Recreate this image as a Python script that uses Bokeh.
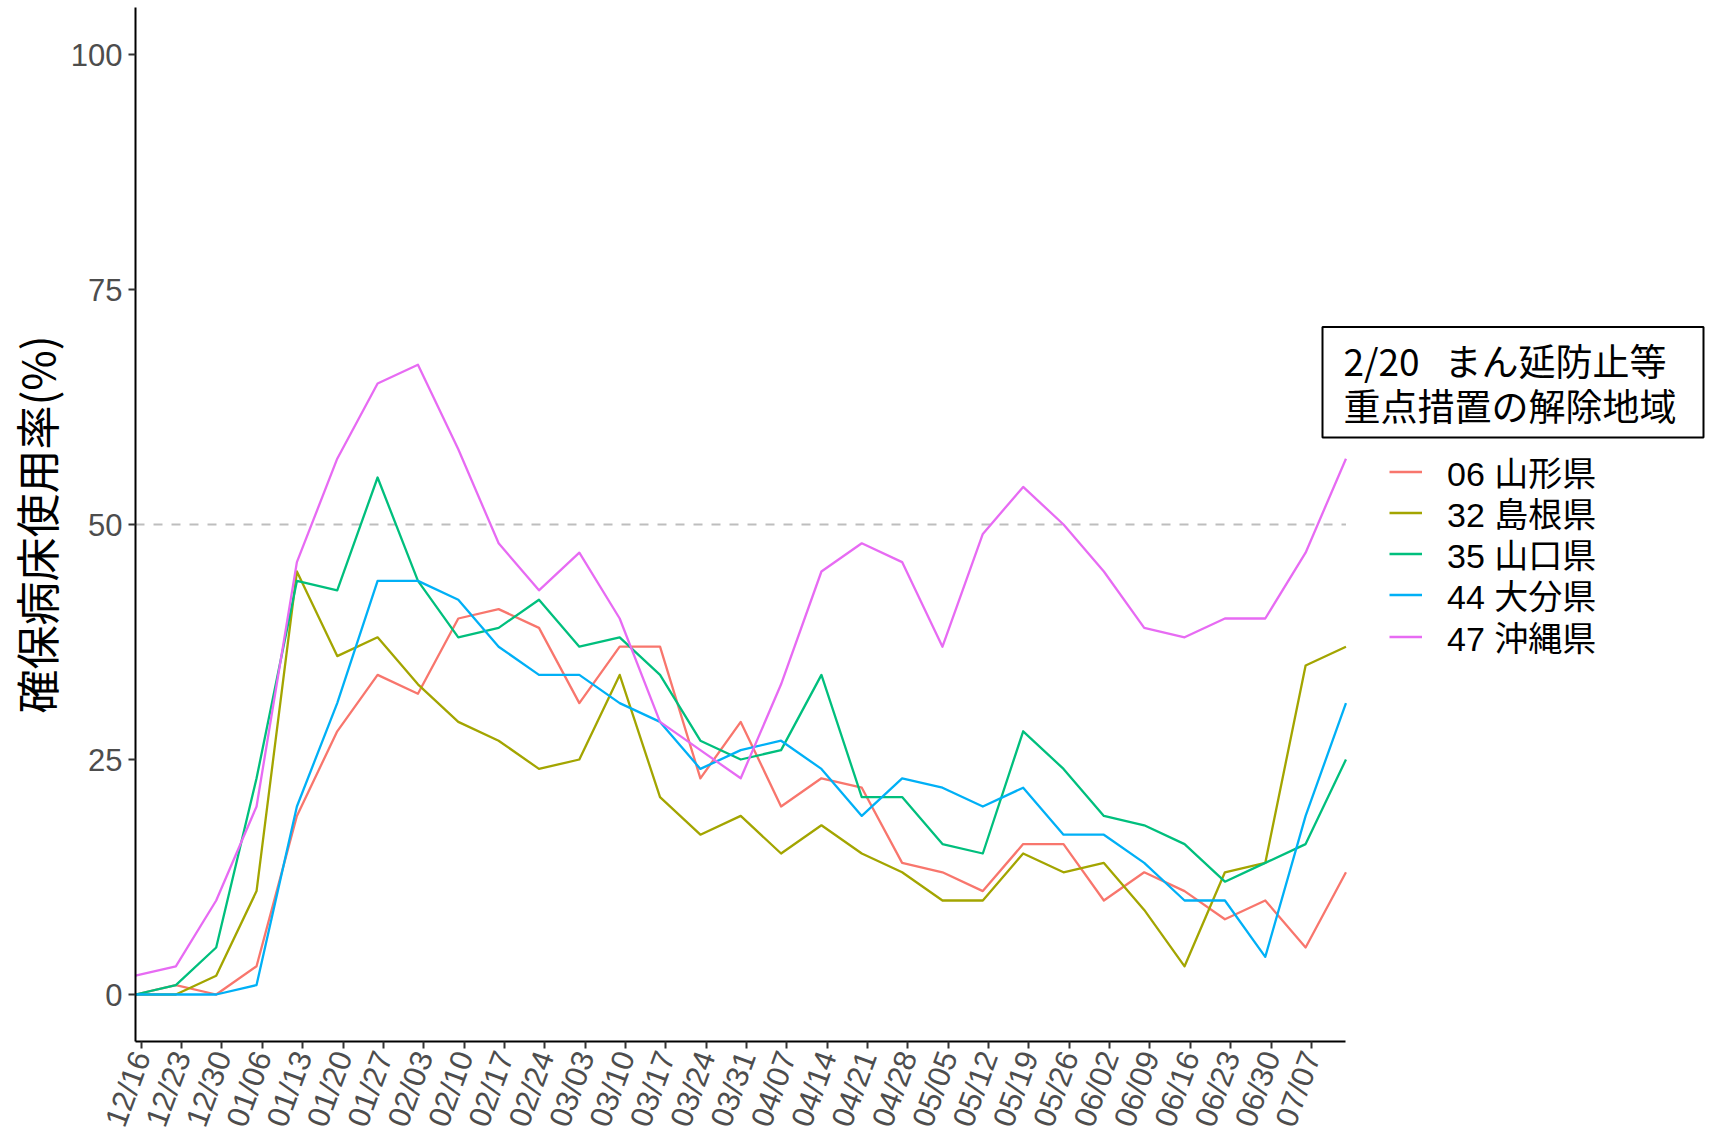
import math
import pandas as pd
from bokeh.plotting import figure
from bokeh.models import (Range1d, FixedTicker, DatetimeTickFormatter, Legend,
                          LegendItem, Label)
from bokeh.embed import file_html
from bokeh.resources import INLINE

# ---- data -------------------------------------------------------------
dates = pd.date_range("2021-12-15", periods=31, freq="7D")
tick_dates = pd.date_range("2021-12-16", periods=30, freq="7D")

names = ["06 山形県", "32 島根県", "35 山口県", "44 大分県", "47 沖縄県"]
colors = ["#F8766D", "#A3A500", "#00BF7D", "#00B0F6", "#E76BF3"]

yamagata = [0, 1, 0, 3, 19, 28, 34, 32, 40, 41, 39, 31, 37, 37, 23, 29,
            20, 23, 22, 14, 13, 11, 16, 16, 10, 13, 11, 8, 10, 5, 13]
shimane = [0, 0, 2, 11, 45, 36, 38, 33, 29, 27, 24, 25, 34, 21, 17, 19,
           15, 18, 15, 13, 10, 10, 15, 13, 14, 9, 3, 13, 14, 35, 37]
yamaguchi = [0, 1, 5, 23, 44, 43, 55, 44, 38, 39, 42, 37, 38, 34, 27, 25,
             26, 34, 21, 21, 16, 15, 28, 24, 19, 18, 16, 12, 14, 16, 25]
oita = [0, 0, 0, 1, 20, 31, 44, 44, 42, 37, 34, 34, 31, 29, 24, 26,
        27, 24, 19, 23, 22, 20, 22, 17, 17, 14, 10, 10, 4, 19, 31]
okinawa = [2, 3, 10, 20, 46, 57, 65, 67, 58, 48, 43, 47, 40, 29, 26, 23,
           33, 45, 48, 46, 37, 49, 54, 50, 45, 39, 38, 40, 40, 47, 57]
series = [yamagata, shimane, yamaguchi, oita, okinawa]

y_ticks = [0, 25, 50, 75, 100]
threshold = 50
legend_title = "2/20\u00a0\u00a0\u00a0まん延防止等\n重点措置の解除地域"
y_label = "確保病床使用率(%)"

# ---- layout -----------------------------------------------------------
W, H = 1710, 1140
LEFT, TOP = 133, 7
DATA_PX = 1212                      # width of the data area in px
FRAME_PX = W - LEFT                 # frame runs to the right edge (legend lives there)
t0, t1 = dates[0], dates[-1]
x_end = t0 + (t1 - t0) * (FRAME_PX / DATA_PX)
FRAME_BOTTOM = 1042                 # px of the x axis line

p = figure(width=W, height=H, x_axis_type="datetime",
           x_range=Range1d(t0, x_end), y_range=Range1d(-5, 105),
           output_backend="svg", toolbar_location=None,
           min_border_left=LEFT, min_border_right=0,
           min_border_top=TOP, min_border_bottom=0)
p.outline_line_color = None
p.grid.visible = False
p.background_fill_color = "white"
p.border_fill_color = "white"

# dashed threshold line across the data area
p.line(x=[t0, t1], y=[threshold, threshold], line_color="#BEBEBE",
       line_width=2, line_dash="9 9")

renderers = []
for vals, c in zip(series, colors):
    r = p.line(x=list(dates), y=vals, line_color=c, line_width=2.3,
               line_join="round")
    renderers.append(r)

epoch = pd.Timestamp("1970-01-01")
tick_ms = [(d - epoch).total_seconds() * 1000 for d in tick_dates]

for ax in (p.xaxis[0], p.yaxis[0]):
    ax.axis_line_color = "black"
    ax.axis_line_width = 2
    ax.major_tick_line_color = "#333333"
    ax.major_tick_line_width = 2
    ax.major_tick_out = 7
    ax.major_tick_in = 0
    ax.minor_tick_line_color = None
    ax.major_label_text_font = "Liberation Sans"
    ax.major_label_text_font_size = "31px"
    ax.major_label_text_color = "#4D4D4D"

p.xaxis.bounds = ((t0 - epoch).total_seconds() * 1000,
                  (t1 - epoch).total_seconds() * 1000)
p.xaxis.ticker = FixedTicker(ticks=tick_ms)
fmt = "%m/%d"
p.xaxis.formatter = DatetimeTickFormatter(
    microseconds=fmt, milliseconds=fmt, seconds=fmt, minsec=fmt, minutes=fmt,
    hourmin=fmt, hours=fmt, days=fmt, months=fmt, years=fmt)
p.xaxis.major_label_orientation = math.radians(70)
p.xaxis.major_label_standoff = 4

p.yaxis.ticker = FixedTicker(ticks=y_ticks)
p.yaxis.major_label_standoff = 6
p.yaxis.axis_label = y_label
p.yaxis.axis_label_text_font = "Noto Sans CJK JP"
p.yaxis.axis_label_text_font_size = "44px"
p.yaxis.axis_label_text_font_style = "normal"
p.yaxis.axis_label_text_color = "black"
p.yaxis.axis_label_standoff = 0

# one legend entry per Legend so the rows keep the reference's 41px pitch
ITEM_H, PITCH, FIRST_CENTER = 49, 41.2, 472.4
for i, (n, r) in enumerate(zip(names, renderers)):
    center = FIRST_CENTER + PITCH * i
    lg = Legend(items=[LegendItem(label=n, renderers=[r])],
                location=(1387 - LEFT,
                          round(FRAME_BOTTOM - (center + ITEM_H / 2))))
    lg.margin = 0
    lg.padding = 0
    lg.spacing = 0
    lg.border_line_color = None
    lg.background_fill_alpha = 0
    lg.glyph_width = 33
    lg.glyph_height = 41
    lg.label_height = 41
    lg.label_standoff = 25
    lg.label_text_font = "Liberation Sans, Noto Sans CJK JP"
    lg.label_text_font_size = "34px"
    lg.label_text_color = "black"
    p.add_layout(lg)

title_box = Label(x=1320 - LEFT, y=71, x_units="screen", y_units="data",
                  text=legend_title, text_align="left", text_baseline="top",
                  text_font="Noto Sans CJK JP", text_font_size="37px",
                  text_color="black", text_line_height=0.84,
                  border_line_color="black", border_line_width=2,
                  background_fill_color="white",
                  padding=(21, 27, 6, 5))
p.add_layout(title_box)

open("out.html", "w").write(file_html(p, INLINE))
